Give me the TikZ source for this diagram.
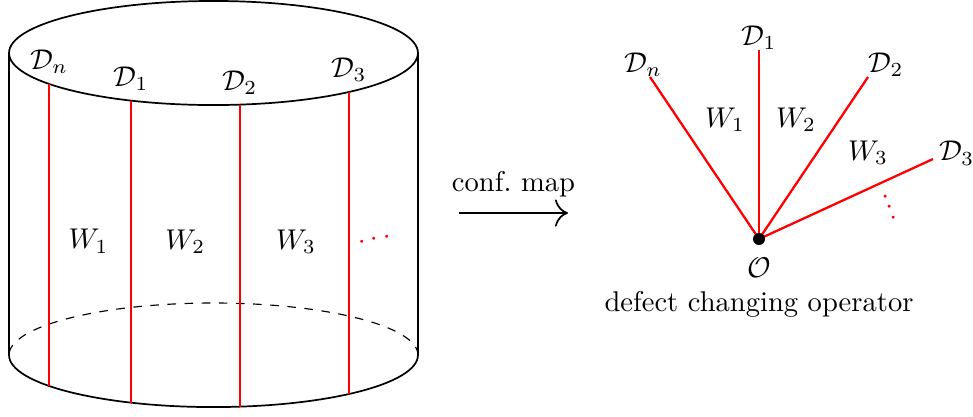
\documentclass[tikz,border=0pt]{standalone}
\usepackage{amsmath}
\usetikzlibrary{arrows.meta,positioning,calc}
\tikzset{
  cylline/.style={draw=black,semithick},
  backline/.style={draw=black,thin,dashed},
  dfct/.style={draw=red,thick},
  rlab/.style={inner sep=0pt},
  reddots/.style={text=red,inner sep=0pt},
  dot/.style={circle,fill=black,inner sep=0pt,minimum size=4.2pt},
  ar/.style={-{To[length=1.6mm]},semithick},
}

\begin{document}
\begin{tikzpicture}
  \useasboundingbox (0,0) rectangle (11.968,5.117);
  \coordinate (top) at (2.626,4.465);
  \coordinate (bot) at (2.626,0.750);
  \draw[cylline] (top) ellipse [x radius=2.515, y radius=0.64];
  \draw[cylline] ($(top)+(-2.515,0)$) -- ($(bot)+(-2.515,0)$);
  \draw[cylline] ($(top)+(2.515,0)$) -- ($(bot)+(2.515,0)$);
  \draw[cylline] ($(bot)+(-2.515,0)$) arc[start angle=180,end angle=360,x radius=2.515,y radius=0.64];
  \draw[backline] ($(bot)+(2.515,0)$) arc[start angle=0,end angle=180,x radius=2.515,y radius=0.64];
  \foreach \a/\n [count=\i] in {216.5/n,246.2/1,277.4/2,311.5/3}{
    \coordinate (u\i) at ($(top)+(\a:2.515 and 0.64)$);
    \coordinate (l\i) at ($(bot)+(\a:2.515 and 0.64)$);
    \draw[dfct] (u\i) -- (l\i);
    \node[above] (d\i) at (u\i) {$\mathcal{D}_\n$};
  }
  \node (w1) at (1.09,2.15) {$W_1$};
  \node (w2) at (2.28,2.14) {$W_2$};
  \node (w3) at (3.64,2.14) {$W_3$};
  \node[reddots,rotate=10] (cd) at (4.637,2.17) {$\cdots$};

  \coordinate (a0) at (5.646,2.497);
  \coordinate (a1) at (6.986,2.497);
  \draw[ar] (a0) -- node[above=2pt] (cm) {conf.~map} (a1);

  \coordinate (O) at (9.336,2.177);
  \coordinate (rn) at ($(O)+(-1.341,1.993)$);
  \coordinate (r1) at ($(O)+(0,2.325)$);
  \coordinate (r2) at ($(O)+(1.341,1.993)$);
  \coordinate (r3) at ($(O)+(2.140,0.984)$);
  \foreach \r in {rn,r1,r2,r3}
    \draw[dfct] (O) -- (\r);
  \node[dot] (od) at (O) {};
  \node[rlab,anchor=south,xshift=-2.4pt] (ldn) at (rn) {$\mathcal{D}_n$};
  \node[rlab,anchor=south] (ld1) at (r1) {$\mathcal{D}_1$};
  \node[rlab,anchor=south west] (ld2) at (r2) {$\mathcal{D}_2$};
  \node[rlab,anchor=west,xshift=2pt,yshift=2pt] (ld3) at (r3) {$\mathcal{D}_3$};
  \node (v1) at ($(O)+(-0.418,1.464)$) {$W_1$};
  \node (v2) at ($(O)+(0.455,1.464)$) {$W_2$};
  \node (v3) at ($(O)+(1.341,1.058)$) {$W_3$};
  \node[reddots,rotate=21] (vd) at ($(O)+(1.573,0.492)$) {$\vdots$};
  \node[below=0.9pt of od] (olab) {$\mathcal{O}$};
  \node[below=-2.3pt of olab] (dco) {defect changing operator};
\end{tikzpicture}
\end{document}
